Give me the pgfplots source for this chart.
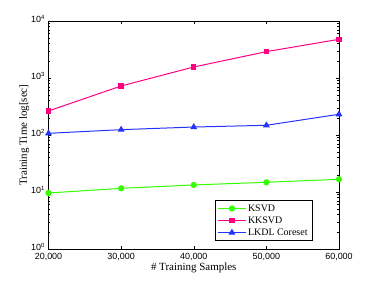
\documentclass[border=0pt]{standalone}
\usepackage{fontspec}
\setmainfont{Liberation Serif}
\newfontfamily\hel{Liberation Sans}
\usepackage{pgfplots}
\pgfplotsset{compat=1.18}
\definecolor{cgreen}{RGB}{51,255,0}
\definecolor{cpink}{RGB}{255,0,128}
\definecolor{cblue}{RGB}{38,51,255}
\begin{document}
\begin{tikzpicture}
\begin{axis}[
  scale only axis,
  width=290.5bp, height=228bp,
  ymode=log,
  xmin=20000, xmax=60000,
  ymin=1, ymax=10000,
  xtick={20000,30000,40000,50000,60000},
  ytick={1,10,100,1000,10000},
  yticklabels={10\textsuperscript{0},10\textsuperscript{1},10\textsuperscript{2},10\textsuperscript{3},10\textsuperscript{4}},
  scaled x ticks=false,
  /pgf/number format/1000 sep={,},
  /pgf/number format/assume math mode=true,
  xticklabel style={font=\hel\fontsize{9}{10}\selectfont, yshift=-1pt},
  yticklabel style={font=\hel\fontsize{9}{10}\selectfont, yshift=2pt},
  tick align=inside,
  tick pos=both,
  major tick length=3bp,
  minor tick length=1.8bp,
  xlabel={\# Training Samples},
  ylabel={Training Time log[sec]},
  label style={font=\fontsize{11}{12}\selectfont},
  xlabel style={yshift=5pt},
  ylabel style={yshift=-5pt},
  axis line style={line width=0.5pt},
  every tick/.style={black, line width=0.4pt},
  legend style={font=\fontsize{10}{12}\selectfont, at={(0.91,0.035)}, anchor=south east, draw=black, line width=0.7pt, inner xsep=3pt, inner ysep=2pt, row sep=0pt, legend cell align=left},
  legend image code/.code={\draw[mark repeat=2,mark phase=2,line width=1pt] plot coordinates {(0cm,0cm) (0.48cm,0cm) (0.96cm,0cm)};},
  clip=false,
]
\addplot[cgreen, line width=1pt, mark=*, mark size=2.6pt] coordinates {
(20000,9.6) (30000,11.6) (40000,13.3) (50000,14.8) (60000,16.7)};
\addlegendentry{KSVD}
\addplot[cpink, line width=1pt, mark=square*, mark size=2.2pt] coordinates {
(20000,264) (30000,724) (40000,1560) (50000,2900) (60000,4770)};
\addlegendentry{KKSVD}
\addplot[cblue, line width=1pt, mark=triangle*, mark size=3pt] coordinates {
(20000,107) (30000,124) (40000,138) (50000,148) (60000,231)};
\addlegendentry{LKDL Coreset}
\coordinate (ll) at (rel axis cs:0,0);
\coordinate (ur) at (rel axis cs:1,1);
\end{axis}
\pgfresetboundingbox
\path[use as bounding box] ([shift={(-48.5bp,-32bp)}]ll) rectangle ([shift={(35bp,21bp)}]ur);
\end{tikzpicture}
\end{document}
